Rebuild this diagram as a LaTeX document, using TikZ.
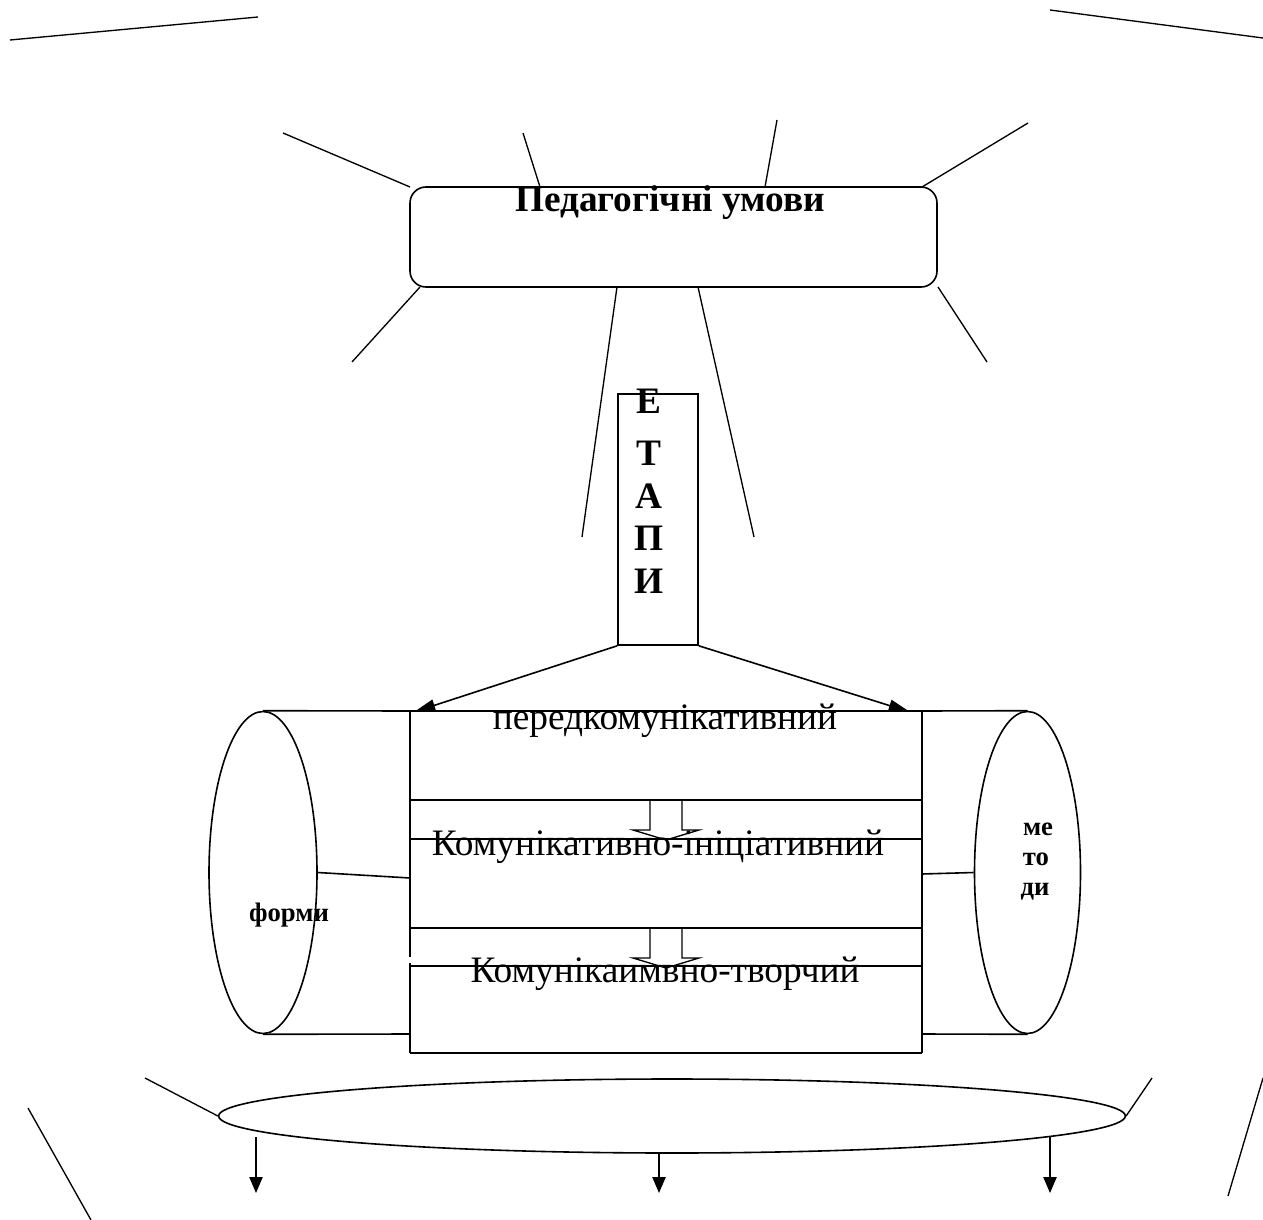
\documentclass[tikz,border=0pt]{standalone}
\usepackage{fontspec}
\setmainfont{Liberation Serif}
\usetikzlibrary{arrows.meta,shapes.geometric}
\begin{document}
\begin{tikzpicture}[x=0.75pt,y=-0.75pt,line width=1.2pt,
  ray/.style={line width=1pt},
  arr/.style={-{Triangle[length=16pt,width=9pt]}},
  darr/.style={-{Triangle[length=12pt,width=10pt]}},
  bigtxt/.style={font=\fontsize{28}{30}\selectfont,inner sep=0pt,anchor=base},
  boldtxt/.style={font=\fontsize{28}{30}\selectfont\bfseries,inner sep=0pt,anchor=base},
  smalltxt/.style={font=\fontsize{20}{22}\selectfont\bfseries,inner sep=0pt,anchor=base}]
\useasboundingbox (0,0) rectangle (1263,1220);
\fill[white] (0,0) rectangle (1263,1220);

% top corner lines
\coordinate (tl1) at (10,40); \coordinate (tl2) at (258,17);
\coordinate (tr1) at (1050,10); \coordinate (tr2) at (1263,38);
\draw[ray] (tl1) -- (tl2);
\draw[ray] (tr1) -- (tr2);

% conditions box
\node[draw,rounded corners=12pt,minimum width=395.25pt,minimum height=75pt,inner sep=0pt] (cond) at (673.5,237) {};
\node[font=\fontsize{28}{30}\selectfont\bfseries,inner sep=0pt,anchor=base] (condtxt) at (670,211) {Педагогічні умови};

% rays
\coordinate (ra1) at (283,133); \coordinate (rb1) at (410,187);
\coordinate (ra2) at (523,133); \coordinate (rb2) at (540,187);
\coordinate (ra3) at (777,120); \coordinate (rb3) at (765,187);
\coordinate (ra4) at (1028,123); \coordinate (rb4) at (922,187);
\coordinate (ra5) at (352,362); \coordinate (rb5) at (420,287);
\coordinate (ra6) at (987,362); \coordinate (rb6) at (938,287);
\coordinate (ra7) at (582,537); \coordinate (rb7) at (617,287);
\coordinate (ra8) at (754,537); \coordinate (rb8) at (698,287);
\foreach \i in {1,...,8} {\draw[ray] (ra\i) -- (rb\i);}

% stages column
\node[draw,minimum width=60pt,minimum height=188.25pt,inner sep=0pt] (etapy) at (658,519.5) {};
\node[boldtxt] (e1) at (649,413) {Е};
\node[boldtxt] (e2) at (649,465) {Т};
\node[boldtxt] (e3) at (649,508) {А};
\node[boldtxt] (e4) at (649,550) {П};
\node[boldtxt] (e5) at (649,593) {И};

% central box
\coordinate (bl) at (410,711); \coordinate (br) at (922,711);
\coordinate (tipl) at (414,712); \coordinate (tipr) at (910,712);
\draw (410,711) -- (410,957);
\draw (410,963) -- (410,1053);
\draw (922,711) -- (922,1053);
\draw (410,1053) -- (922,1053);
\draw (410,800) -- (922,800);
\draw (410,839) -- (922,839);
\draw (410,928) -- (922,928);
\draw (410,966) -- (922,966);

% arrows from stages
\draw[arr] (etapy.south west) -- (tipl);
\draw[arr] (etapy.south east) -- (tipr);

% hollow arrows
\draw[line width=1pt] (650,800) -- (650,830) -- (633,830) -- (666,840) -- (699,830) -- (682,830) -- (682,800);
\draw[line width=1pt] (650,928) -- (650,958) -- (633,958) -- (666,968) -- (699,958) -- (682,958) -- (682,928);

% stage texts
\node[bigtxt] (s1) at (665,729) {передкомунікативний};
\node[bigtxt] (s2) at (658,855) {Комунікативно-ініціативний};
\node[bigtxt] (s3) at (665,982) {Комунікаимвно-творчий};

% left cylinder
\node[draw,ellipse,minimum width=81pt,minimum height=241.5pt,inner sep=0pt] (forms) at (263,872.5) {};
\draw (forms.north) -- (bl) -- (br);
\draw (forms.south) -- (410,1034);
\draw (forms.east) -- (410,878);
\node[smalltxt] (formstxt) at (289,921) {форми};

% right cylinder
\node[draw,ellipse,minimum width=79.5pt,minimum height=241.5pt,inner sep=0pt] (meth) at (1027.5,872.5) {};
\draw (br) -- (meth.north);
\draw (922,1034) -- (meth.south);
\draw (922,874) -- (meth.west);
\node[smalltxt] (m1) at (1038,835) {ме};
\node[smalltxt] (m2) at (1036,865) {то};
\node[smalltxt] (m3) at (1035,895) {ди};

% bottom ellipse
\node[draw,ellipse,minimum width=680pt,minimum height=55.5pt,inner sep=0pt] (base) at (672,1116) {};
\coordinate (bla) at (145,1078); \coordinate (bra) at (1152,1078);
\draw[ray] (bla) -- (base.west);
\draw[ray] (bra) -- (base.east);
\coordinate (u1) at (256,1137); \coordinate (u2) at (659,1153); \coordinate (u3) at (1050,1137);
\coordinate (d1) at (256,1193); \coordinate (d2) at (659,1193); \coordinate (d3) at (1050,1193);
\foreach \i in {1,2,3} {\draw[darr,line width=1pt] (u\i) -- (d\i);}

% outer bottom lines
\coordinate (ol1) at (28,1108); \coordinate (ol2) at (91,1220);
\coordinate (or1) at (1263,1078); \coordinate (or2) at (1228,1196);
\draw[ray] (ol1) -- (ol2);
\draw[ray] (or1) -- (or2);
\end{tikzpicture}
\end{document}
